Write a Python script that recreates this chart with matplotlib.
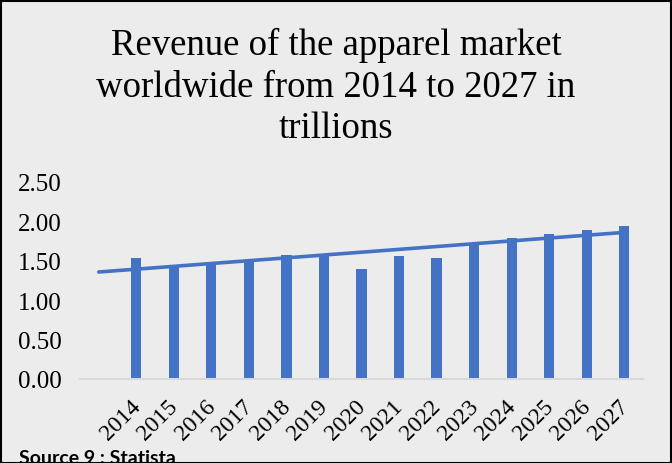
import numpy as np
import matplotlib.pyplot as plt
from matplotlib.patches import Rectangle

# apparel market revenue, trillions
years = ['2014', '2015', '2016', '2017', '2018', '2019', '2020',
         '2021', '2022', '2023', '2024', '2025', '2026', '2027']
revenue = [1.535, 1.45, 1.46, 1.50, 1.57, 1.59, 1.40,
           1.555, 1.53, 1.73, 1.79, 1.84, 1.89, 1.94]
yticks = [0.0, 0.5, 1.0, 1.5, 2.0, 2.5]

blue = '#4472C4'
bg = '#ececec'

fig = plt.figure(figsize=(6.72, 4.64), dpi=100)
fig.patch.set_facecolor(bg)
W, H = 672, 464
ax = fig.add_axes([80 / W, (H - 380) / H, (643 - 80) / W, (380 - 183) / H])
ax.set_facecolor(bg)

x = np.arange(len(years))
ax.bar(x, revenue, width=0.27, color=blue, zorder=2)

# linear trendline, one period backward forecast
k, b = np.polyfit(x, revenue, 1)
tx = np.array([-1, len(years) - 1])
ax.plot(tx, k * tx + b, color=blue, lw=2.6, solid_capstyle='round', zorder=3)

ax.set_xlim(-1.5, len(years) - 0.5)
ax.set_ylim(0, 2.5)
ax.set_yticks(yticks)
ax.set_yticklabels(['%.2f' % v for v in yticks], fontsize=18,
                   family='Liberation Serif')
# rotated labels end a little right of each bar
ax.set_xticks(x + 0.22)
ax.set_xticklabels(years, fontsize=17, family='Liberation Serif',
                   rotation=45, ha='right', va='top')
ax.tick_params(axis='y', length=0, pad=13)
ax.tick_params(axis='x', length=0, pad=12)
for s in ['top', 'right', 'left']:
    ax.spines[s].set_visible(False)
ax.spines['bottom'].set_color('#d9d9d9')
ax.spines['bottom'].set_linewidth(1.5)

fig.text(0.5, (H - 28) / H,
         'Revenue of the apparel market\nworldwide from 2014 to 2027 in\ntrillions',
         ha='center', va='top', fontsize=26.5, family='Liberation Serif',
         linespacing=1.27)

fig.text(19 / W, (H - 450) / H, 'Source 9 : Statista', ha='left', va='top',
         fontsize=14, fontweight='bold', family='Lato')

# frame round the whole picture
fig.patches.append(Rectangle((0.5 / W, 0.5 / H), (W - 2) / W, (H - 2) / H,
                             transform=fig.transFigure, fill=False,
                             edgecolor='black', lw=1.5))

fig.savefig('out.png', dpi=100, facecolor=bg)
